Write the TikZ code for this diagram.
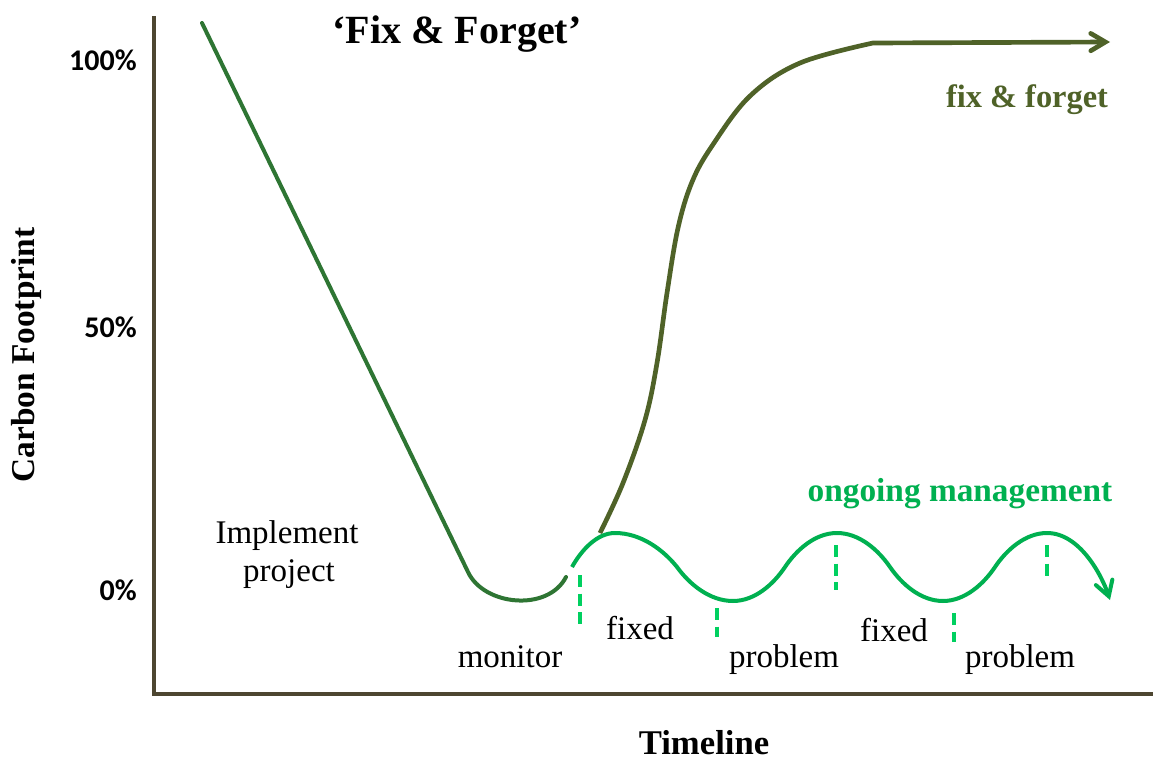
\documentclass[tikz,border=0pt]{standalone}
\usepackage{fontspec}
\setmainfont{Liberation Serif}
\newfontfamily\pctfont{Carlito}
\usetikzlibrary{arrows.meta}
\definecolor{axiscol}{HTML}{4D4631}
\definecolor{downgreen}{HTML}{2E7533}
\definecolor{olive}{HTML}{4F6228}
\definecolor{wavegreen}{HTML}{00B050}
\definecolor{dashgreen}{HTML}{00D060}
\tikzset{
  lbl/.style={inner sep=0pt, anchor=base, font=\fontsize{24.75}{29}\selectfont},
  boldlbl/.style={inner sep=0pt, anchor=base, font=\fontsize{25}{30}\selectfont\bfseries},
  pct/.style={inner sep=0pt, anchor=base east, font=\fontsize{22.5}{27}\selectfont\pctfont\bfseries},
  axisline/.style={draw=axiscol, line width=3.5pt},
  downline/.style={draw=downgreen, line width=3pt, line cap=round},
  oliveline/.style={draw=olive, line width=3.5pt, -{Straight Barb[length=11pt,width=13pt,line cap=round]}},
  waveline/.style={draw=wavegreen, line width=3pt, -{Straight Barb[length=11pt,width=13pt,line cap=round]}},
  tick/.style={draw=dashgreen, line width=2.6pt, dash pattern=on 9pt off 5pt}
}
\begin{document}
\begin{tikzpicture}[x=0.75pt,y=-0.75pt]
\useasboundingbox (0,0) rectangle (1153,760);
\fill[white] (0,0) rectangle (1153,760);

% axes
\coordinate (ytop) at (154,16);
\coordinate (origin) at (154,694);
\coordinate (xend) at (1153,694);
\draw[axisline] (ytop) -- (origin) -- (xend);

% descending line to minimum
\coordinate (dstart) at (202,23);
\coordinate (dbend) at (468,572);
\coordinate (dend) at (566,577);
\draw[downline] (dstart) -- (dbend) .. controls (484,606) and (548,612) .. (dend);

% fix & forget curve
\coordinate (fstart) at (600,533);
\coordinate (fjoin) at (873,43);
\coordinate (ftip) at (1110,42);
\draw[oliveline] plot[smooth, tension=0.6] coordinates {(600,533) (623,483) (645,420) (657,363) (667,293) (678,228) (692,182) (712,146) (750,96) (800,63) (873,43)} -- (ftip);

% ongoing management wave
\coordinate (wstart) at (572,567);
\coordinate (wtip) at (1110,600);
\draw[waveline] (wstart)
  .. controls (581.5,550) and (597,533) .. (615,533)
  .. controls (641,533) and (663.4,550) .. (677,567)
  .. controls (689.3,584) and (709.5,601) .. (733,601)
  .. controls (755,601) and (773.6,584) .. (785,567)
  .. controls (796.4,550) and (815,533) .. (837,533)
  .. controls (859.3,533) and (878.3,550) .. (890,567)
  .. controls (901.7,584) and (920.7,601) .. (943,601)
  .. controls (964.8,601) and (983.6,584) .. (995,567)
  .. controls (1006.4,550) and (1025.2,533) .. (1047,533)
  .. controls (1080,533) and (1102,576) .. (wtip);

% dashed markers
\coordinate (t1a) at (580,575); \coordinate (t1b) at (580,627);
\coordinate (t2a) at (717,608); \coordinate (t2b) at (717,637);
\coordinate (t3a) at (836,545); \coordinate (t3b) at (836,590);
\coordinate (t4a) at (954,613); \coordinate (t4b) at (954,642);
\coordinate (t5a) at (1047,545); \coordinate (t5b) at (1047,582);
\draw[tick] (t1a) -- (t1b);
\draw[tick] (t2a) -- (t2b);
\draw[tick] (t3a) -- (t3b);
\draw[tick] (t4a) -- (t4b);
\draw[tick] (t5a) -- (t5b);

% labels
\node[boldlbl, font=\fontsize{30}{36}\selectfont\bfseries] (title) at (457,43) {‘Fix \& Forget’};
\node[pct] (p100) at (137,70) {100\%};
\node[pct] (p50) at (137,337) {50\%};
\node[pct] (p0) at (137,600) {0\%};
\node[boldlbl, rotate=90] (ylab) at (34,355) {Carbon Footprint};
\node[boldlbl, font=\fontsize{26}{31}\selectfont\bfseries] (xlab) at (704,754) {Timeline};
\node[lbl] (impl1) at (287,543) {Implement};
\node[lbl] (impl2) at (289,581) {project};
\node[lbl] (monitor) at (510,667) {monitor};
\node[lbl] (fixed1) at (640,639) {fixed};
\node[lbl] (problem1) at (784,667) {problem};
\node[lbl] (fixed2) at (894,641) {fixed};
\node[lbl] (problem2) at (1020,667) {problem};
\node[boldlbl, text=olive, font=\fontsize{24.3}{29}\selectfont\bfseries] (ff) at (1027,107) {fix \& forget};
\node[boldlbl, text=wavegreen] (om) at (960,501) {ongoing management};
\end{tikzpicture}
\end{document}
